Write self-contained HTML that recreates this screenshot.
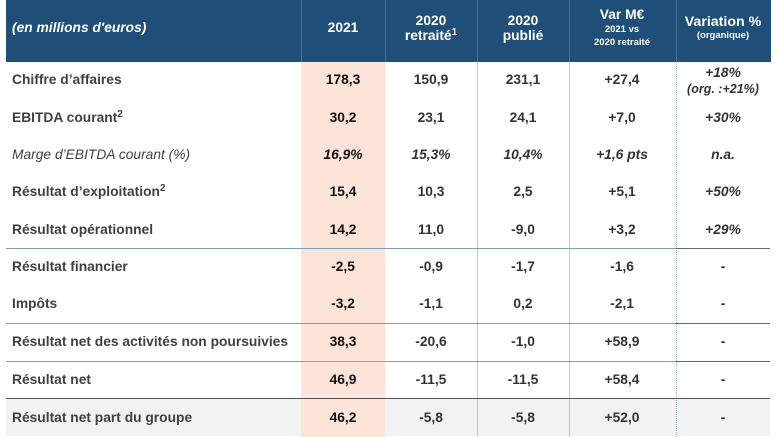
<!DOCTYPE html>
<html><head><meta charset="utf-8"><style>
*{margin:0;padding:0;box-sizing:border-box}
body{width:777px;height:437px;background:#fff;position:relative;overflow:hidden;font-family:"Liberation Sans",Arial,sans-serif;}
.a{position:absolute}
.h{background:#1f4e79;left:6px;top:0;width:765px;height:62px}
.hv{position:absolute;top:0;width:1px;height:62px;background:#4a6f94}
.t{position:absolute;font-weight:bold;font-size:13.8px;white-space:nowrap;line-height:16px}
.w{color:#fff;text-align:center}
.c{text-align:center;transform:translateX(-50%)}
.lab{left:12px;color:#404040}
.v{color:#333}
.s{color:#111}
.i{font-style:italic}
.hl{position:absolute;height:1px}
.sp{font-size:10px;position:relative;top:-5px}
</style></head><body>
<div class="a h"></div>
<div class="hv" style="left:301px"></div>
<div class="hv" style="left:385px"></div>
<div class="hv" style="left:477px"></div>
<div class="hv" style="left:569px"></div>
<div class="hv" style="left:676px"></div>

<div class="a" style="left:6px;top:399px;width:764px;height:37px;background:#f2f2f2"></div>
<div class="a" style="left:301px;top:62px;width:84px;height:375px;background:#fde4d8"></div>

<div class="a" style="left:477px;top:62px;width:1px;height:375px;background:#c6c6c6"></div>
<div class="a" style="left:569px;top:62px;width:1px;height:375px;background:#c6c6c6"></div>
<div class="a" style="left:676px;top:62px;width:0;height:375px;border-left:1px dotted #9db2c8"></div>

<div class="hl" style="left:6px;top:248px;width:670px;background:#7f9cb8"></div>
<div class="hl" style="left:676px;top:248px;width:94px;background:#666"></div>
<div class="hl" style="left:6px;top:323px;width:670px;background:#7f9cb8"></div>
<div class="hl" style="left:676px;top:323px;width:94px;background:#666"></div>
<div class="hl" style="left:6px;top:361px;width:670px;background:#7f9cb8"></div>
<div class="hl" style="left:676px;top:361px;width:94px;background:#666"></div>
<div class="hl" style="left:6px;top:398px;width:764px;background:#555"></div>

<div class="t i" style="left:12px;top:20px;color:#fff">(en millions d'euros)</div>
<div class="t w c" style="left:343px;top:20px">2021</div>
<div class="t w c" style="left:431px;top:13px">2020</div>
<div class="t w c" style="left:431px;top:28px">retraité<span class="sp">1</span></div>
<div class="t w c" style="left:523px;top:13px">2020</div>
<div class="t w c" style="left:523px;top:28px">publié</div>
<div class="t w c" style="left:622px;top:7px">Var M€</div>
<div class="t w c" style="left:622px;top:24px;font-size:9.5px;line-height:12px">2021 vs</div>
<div class="t w c" style="left:622px;top:37px;font-size:9.5px;line-height:12px">2020 retraité</div>
<div class="t w c" style="left:723px;top:14px;font-size:14.2px">Variation %</div>
<div class="t w c" style="left:723px;top:30px;font-size:9.5px;line-height:12px">(organique)</div>

<div class="t lab" style="top:72px">Chiffre d’affaires</div>
<div class="t lab" style="top:110px">EBITDA courant<span class="sp">2</span></div>
<div class="t lab" style="top:147px;font-weight:normal;font-style:italic">Marge d’EBITDA courant (%)</div>
<div class="t lab" style="top:184px">Résultat d’exploitation<span class="sp">2</span></div>
<div class="t lab" style="top:222px">Résultat opérationnel</div>
<div class="t lab" style="top:259px">Résultat financier</div>
<div class="t lab" style="top:296px">Impôts</div>
<div class="t lab" style="top:334px">Résultat net des activités non poursuivies</div>
<div class="t lab" style="top:372px">Résultat net</div>
<div class="t lab" style="top:410px">Résultat net part du groupe</div>

<div class="t s c" style="left:343px;top:72px">178,3</div>
<div class="t s c" style="left:343px;top:110px">30,2</div>
<div class="t s c i" style="left:343px;top:147px">16,9%</div>
<div class="t s c" style="left:343px;top:184px">15,4</div>
<div class="t s c" style="left:343px;top:222px">14,2</div>
<div class="t s c" style="left:343px;top:259px">-2,5</div>
<div class="t s c" style="left:343px;top:296px">-3,2</div>
<div class="t s c" style="left:343px;top:334px">38,3</div>
<div class="t s c" style="left:343px;top:372px">46,9</div>
<div class="t s c" style="left:343px;top:410px">46,2</div>

<div class="t v c" style="left:431px;top:72px">150,9</div>
<div class="t v c" style="left:431px;top:110px">23,1</div>
<div class="t v c i" style="left:431px;top:147px">15,3%</div>
<div class="t v c" style="left:431px;top:184px">10,3</div>
<div class="t v c" style="left:431px;top:222px">11,0</div>
<div class="t v c" style="left:431px;top:259px">-0,9</div>
<div class="t v c" style="left:431px;top:296px">-1,1</div>
<div class="t v c" style="left:431px;top:334px">-20,6</div>
<div class="t v c" style="left:431px;top:372px">-11,5</div>
<div class="t v c" style="left:431px;top:410px">-5,8</div>

<div class="t v c" style="left:523px;top:72px">231,1</div>
<div class="t v c" style="left:523px;top:110px">24,1</div>
<div class="t v c i" style="left:523px;top:147px">10,4%</div>
<div class="t v c" style="left:523px;top:184px">2,5</div>
<div class="t v c" style="left:523px;top:222px">-9,0</div>
<div class="t v c" style="left:523px;top:259px">-1,7</div>
<div class="t v c" style="left:523px;top:296px">0,2</div>
<div class="t v c" style="left:523px;top:334px">-1,0</div>
<div class="t v c" style="left:523px;top:372px">-11,5</div>
<div class="t v c" style="left:523px;top:410px">-5,8</div>

<div class="t v c" style="left:622px;top:72px">+27,4</div>
<div class="t v c" style="left:622px;top:110px">+7,0</div>
<div class="t v c i" style="left:622px;top:147px">+1,6 pts</div>
<div class="t v c" style="left:622px;top:184px">+5,1</div>
<div class="t v c" style="left:622px;top:222px">+3,2</div>
<div class="t v c" style="left:622px;top:259px">-1,6</div>
<div class="t v c" style="left:622px;top:296px">-2,1</div>
<div class="t v c" style="left:622px;top:334px">+58,9</div>
<div class="t v c" style="left:622px;top:372px">+58,4</div>
<div class="t v c" style="left:622px;top:410px">+52,0</div>

<div class="t v c i" style="left:723px;top:65px">+18%</div>
<div class="t v c i" style="left:723px;top:81px;font-size:12.5px">(org. :+21%)</div>
<div class="t v c i" style="left:723px;top:110px">+30%</div>
<div class="t v c i" style="left:723px;top:147px">n.a.</div>
<div class="t v c i" style="left:723px;top:184px">+50%</div>
<div class="t v c i" style="left:723px;top:222px">+29%</div>
<div class="t v c" style="left:723px;top:259px">-</div>
<div class="t v c" style="left:723px;top:296px">-</div>
<div class="t v c" style="left:723px;top:334px">-</div>
<div class="t v c" style="left:723px;top:372px">-</div>
<div class="t v c" style="left:723px;top:410px">-</div>
</body></html>
